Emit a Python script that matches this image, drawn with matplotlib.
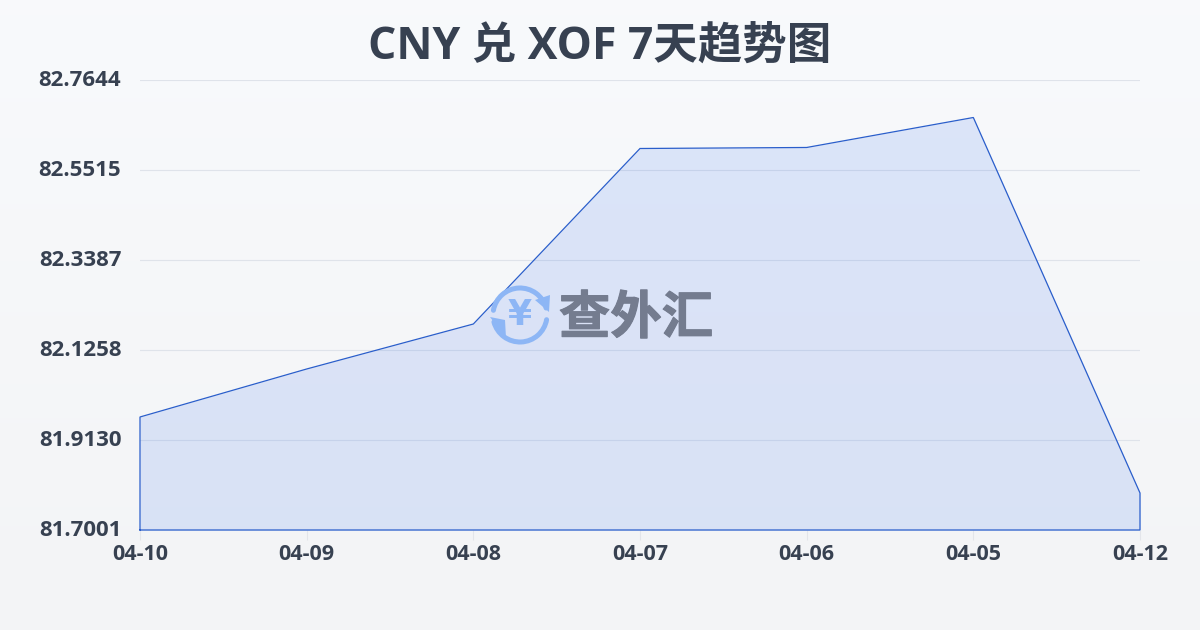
#!/usr/bin/env python3

from __future__ import annotations

import matplotlib

matplotlib.use("Agg")
import matplotlib.patheffects as effects
import matplotlib.pyplot as plt
import numpy as np
from matplotlib.patches import Arc, Polygon
from matplotlib.transforms import ScaledTranslation

plt.rcParams["font.family"] = ["Open Sans", "Noto Sans CJK SC", "DejaVu Sans"]

TITLE = "CNY 兑 XOF 7天趋势图"
DATES = ["04-10", "04-09", "04-08", "04-07", "04-06", "04-05", "04-12"]
RATES = [81.9674, 82.0809, 82.1873, 82.6024, 82.6048, 82.6757, 81.7876]
Y_TICKS = [81.7001, 81.9130, 82.1258, 82.3387, 82.5515, 82.7644]

TEXT_COLOR = "#374151"
LINE_COLOR = "#2a5ecb"
W, H = 1200, 630


def draw_background(figure) -> None:
    back = figure.add_axes([0, 0, 1, 1], zorder=0)
    top = np.array([0.973, 0.980, 0.988])
    bottom = np.array([0.953, 0.957, 0.965])
    ramp = np.linspace(0, 1, 256)[:, None, None]
    back.imshow(top + (bottom - top) * ramp, aspect="auto", extent=(0, 1, 0, 1))
    back.axis("off")


def draw_watermark(figure) -> None:
    # overlay in pixel coordinates, y pointing down
    over = figure.add_axes([0, 0, 1, 1], zorder=5)
    over.set_xlim(0, W)
    over.set_ylim(H, 0)
    over.axis("off")
    blue = "#8db6f5"
    center = (520, 315)
    for start, end in [(190, 345), (10, 165)]:
        over.add_patch(Arc(center, 54, 54, theta1=start, theta2=end,
                           color=blue, linewidth=3.6, capstyle="round"))
    over.add_patch(Polygon([(535, 300), (550, 295), (549, 312)], color=blue, linewidth=0))
    over.add_patch(Polygon([(490, 317), (505, 320), (506, 338)], color=blue, linewidth=0))
    over.text(*center, "¥", fontsize=25, fontweight="bold", color=blue,
              ha="center", va="center", family=["DejaVu Sans"])
    word = over.text(636, 318, "查外汇", fontsize=37, fontweight="black", color="#747c8f",
                     ha="center", va="center", family=["Noto Sans CJK SC"])
    word.set_path_effects([effects.withStroke(linewidth=0.8, foreground="#747c8f")])


def main() -> None:
    figure = plt.figure(figsize=(W / 100, H / 100), dpi=100)
    draw_background(figure)

    axis = figure.add_axes([140 / W, 1 - 530 / H, 1000 / W, 450 / H], zorder=2)
    axis.patch.set_alpha(0)
    positions = np.arange(len(DATES))

    axis.set_xlim(0, len(DATES) - 1)
    axis.set_ylim(Y_TICKS[0], Y_TICKS[-1])

    axis.fill_between(positions, RATES, Y_TICKS[0], color="#2563eb", alpha=0.13,
                      linewidth=0, zorder=2)
    outline_x = [0, *positions, positions[-1], 0]
    outline_y = [Y_TICKS[0], *RATES, Y_TICKS[0], Y_TICKS[0]]
    axis.plot(outline_x, outline_y, color=LINE_COLOR, linewidth=0.9, zorder=3,
              clip_on=False, solid_joinstyle="miter")

    axis.set_yticks(Y_TICKS)
    axis.set_yticklabels([f"{v:.4f}" for v in Y_TICKS], fontsize=16,
                         fontweight="bold", color=TEXT_COLOR)
    axis.set_xticks(positions)
    axis.set_xticklabels(DATES, fontsize=15.5, fontweight="bold", color=TEXT_COLOR)
    axis.tick_params(axis="y", length=0, pad=13.5)
    axis.tick_params(axis="x", length=7, width=0.8, color="#e3e5ea", pad=3)
    # labels sit 2px above their gridlines in the original
    shift_up = ScaledTranslation(0, 2 / 100, figure.dpi_scale_trans)
    for label in axis.get_yticklabels():
        label.set_transform(label.get_transform() + shift_up)
    axis.grid(axis="y", color="#dfe3ea", linewidth=0.8, zorder=1)
    axis.set_axisbelow(True)
    for spine in axis.spines.values():
        spine.set_visible(False)

    figure.text(600 / W, 1 - 47 / H, TITLE, fontsize=32, fontweight="bold",
                color=TEXT_COLOR, ha="center", va="center", zorder=6)

    draw_watermark(figure)
    figure.savefig("out.png", dpi=100)
    plt.close(figure)


if __name__ == "__main__":
    main()
